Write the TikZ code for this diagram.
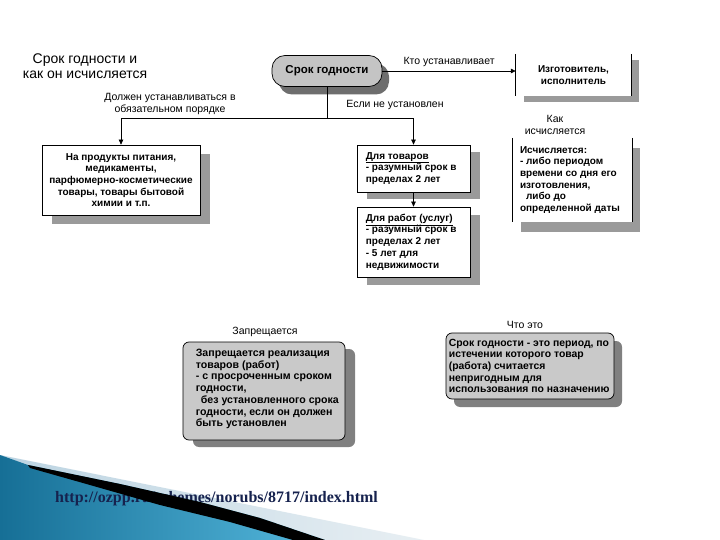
\documentclass[tikz,border=0pt]{standalone}
\usepackage{fontspec}
\setmainfont{Liberation Sans}
\newfontfamily\urlfont{Liberation Serif}
\usetikzlibrary{arrows.meta,shadows}
\definecolor{pillfill}{HTML}{C4C4C4}
\definecolor{pillshadow}{HTML}{6E6E6E}
\definecolor{boxshadow}{HTML}{9A9A9A}
\definecolor{rfill}{HTML}{C9C9C9}
\definecolor{rshadow}{HTML}{808080}
\definecolor{urlcol}{HTML}{16224E}
\definecolor{bluedark}{HTML}{166F96}
\definecolor{bluelight}{HTML}{55B8DD}
\definecolor{lightreg}{HTML}{BCD4E2}
\definecolor{lightreg2}{HTML}{E8EFF3}
\begin{document}
\begin{tikzpicture}[x=1pt,y=-1pt,
  txt/.style={font=\fontsize{10.5}{11.7}\selectfont, inner sep=0pt},
  btxt/.style={font=\bfseries\fontsize{10}{11.7}\selectfont, inner sep=0pt},
  bbtxt/.style={font=\bfseries\fontsize{10.6}{11.7}\selectfont, inner sep=0pt},
  lbl/.style={txt, align=center},
  ln/.style={line width=0.7pt},
  arr/.style={ln, -{Triangle[length=5pt,width=4.5pt]}},
  sqbox/.style={draw, line width=0.7pt, fill=white, inner sep=0pt},
  sidebox/.style={fill=white, inner sep=0pt},
  rbox/.style={draw, line width=0.7pt, fill=rfill, rounded corners=6pt, inner sep=0pt},
  shd/.style 2 args={drop shadow={shadow xshift=#1pt, shadow yshift=-#2pt, fill=boxshadow, opacity=1}},
  rshd/.style 2 args={drop shadow={shadow xshift=#1pt, shadow yshift=-#2pt, fill=rshadow, opacity=1}}
]
\fill[white] (0,0) rectangle (720,540);
\useasboundingbox (0,0) rectangle (720,540);

% title
\node[inner sep=0pt, font=\fontsize{14}{15}\selectfont, align=center] (title) at (85,66) {Срок годности и\\как он исчисляется};

% pill
\node[draw, line width=0.7pt, fill=pillfill, rounded corners=13pt, minimum width=110pt, minimum height=31pt, inner sep=0pt,
  drop shadow={shadow xshift=7pt, shadow yshift=-8pt, fill=pillshadow, opacity=1},
  font=\bfseries\fontsize{11.5}{13}\selectfont] (pill) at (327,71) {Срок годности};

% manufacturer box
\node[sidebox, shd={8}{6}, minimum width=115pt, minimum height=42pt, align=center, btxt] (isg) at (573.5,75) {Изготовитель,\\исполнитель};
\draw[ln] (isg.north west) -- (isg.south west);
\draw[ln] (isg.north east) -- (isg.south east);
\draw[arr] (pill.east) -- node[txt, above=4pt] (who) {Кто устанавливает} (pill.east -| isg.west);

% left box
\node[sqbox, shd={10}{9}, minimum width=158pt, minimum height=70pt, align=center, btxt] (food) at (121,180)
  {На продукты питания,\\медикаменты,\\парфюмерно-косметические\\товары,  товары бытовой\\химии и т.п.};

% goods box
\node[sqbox, shd={10}{7}, minimum width=113pt, minimum height=47pt] (goods) at (413.5,168.5) {};
\node[btxt, align=left, anchor=west] (goodsT) at ([xshift=9pt]goods.west) {\underline{Для товаров}\\- разумный срок  в\\пределах 2 лет};

% works box
\node[sqbox, shd={10}{8}, minimum width=113pt, minimum height=70pt] (works) at (413.5,242) {};
\node[btxt, align=left, anchor=west] (worksT) at ([xshift=9pt]works.west) {\underline{Для работ (услуг)}\\- разумный срок  в\\пределах 2 лет\\-  5 лет для\\недвижимости};

% calc box
\node[sidebox, shd={8}{10}, minimum width=119pt, minimum height=84pt] (calc) at (572.5,180) {};
\draw[ln] (calc.north west) -- (calc.south west);
\draw[ln] (calc.north east) -- (calc.south east);
\node[btxt, align=left, anchor=west] (calcT) at ([xshift=7pt]calc.west) {Исчисляется:\\- либо периодом\\времени со дня его\\изготовления,\\\hspace*{6pt}либо до\\определенной даты};
\node[lbl] (how) at (555,125) {Как\\исчисляется};

% connectors
\coordinate (jn) at (327,118);
\draw[ln] (pill.south) -- (jn);
\draw[arr] (jn) -| (food.north);
\draw[arr] (jn) -| (goods.north);
\draw[arr] (goods.south) -- (works.north);
\node[lbl] (must) at (170,104) {Должен устанавливаться в\\обязательном порядке};
\node[lbl] (ifnot) at (395,105) {Если не установлен};

% forbidden box
\node[lbl] (forbL) at (265,332) {Запрещается};
\node[rbox, rshd={10}{7}, minimum width=162pt, minimum height=98pt] (forb) at (264,391) {};
\node[bbtxt, align=left, anchor=west] (forbT) at ([xshift=13pt,yshift=2pt]forb.west) {Запрещается  реализация\\товаров (работ)\\- с просроченным сроком\\годности,\\\hspace*{5pt}без установленного срока\\годности, если он должен\\быть установлен};

% what box
\node[lbl] (whatL) at (525,325) {Что это};
\node[rbox, rshd={8}{8}, minimum width=168pt, minimum height=66pt] (what) at (530,366) {};
\node[bbtxt, align=left, anchor=west, font=\bfseries\fontsize{10.4}{11.7}\selectfont] (whatT) at ([xshift=3pt]what.west) {Срок годности - это период, по\\истечении которого товар\\(работа) считается\\непригодным для\\использования по назначению};

% bottom decoration
\shade[left color=lightreg, right color=lightreg2] (0,455) -- (424,540) -- (0,540) -- cycle;
\shade[left color=bluedark, right color=bluelight] (0,455) -- (28,465) -- (120,484) -- (200,502) -- (260,518) -- (325,540) -- (0,540) -- cycle;
\node[inner sep=0pt, anchor=base west, text=urlcol, font=\urlfont\bfseries\fontsize{16}{18}\selectfont] (url) at (55,502) {http://ozpp.ru/schemes/norubs/8717/index.html};
\fill[black] (28,465) -- (120,484) -- (200,502) -- (260,518) -- (325,540) -- (293,540) -- (230,522) -- (160,505) -- (90,485) -- (30,468) -- cycle;
\end{tikzpicture}
\end{document}
